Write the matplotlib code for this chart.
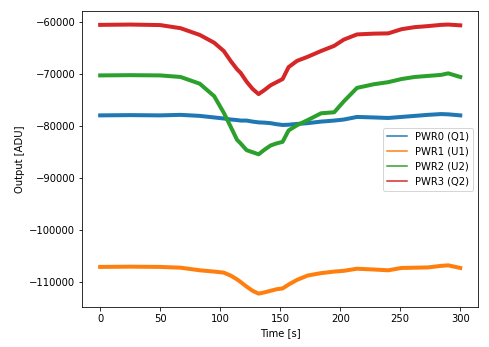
import matplotlib
matplotlib.use('Agg')
import matplotlib.pyplot as plt

# sample times [s]
time_s = [0, 25, 50, 67, 83, 95, 103, 109, 114, 117, 122, 127, 132, 137, 142, 147,
          152, 157, 164, 173, 184, 195, 203, 214, 228, 240, 251, 262, 273, 284, 290, 300]

pwr0 = [-77900, -77850, -77900, -77800, -78000, -78300, -78500, -78700, -78800, -78900,
        -78900, -79100, -79250, -79300, -79400, -79600, -79750, -79700, -79550, -79400,
        -79100, -78900, -78700, -78200, -78300, -78400, -78200, -78000, -77800, -77650,
        -77700, -77900]
pwr1 = [-107100, -107050, -107100, -107250, -107750, -108000, -108200, -108800, -109500, -110000,
        -110900, -111700, -112250, -112000, -111700, -111400, -111250, -110500, -109600, -108750,
        -108300, -108000, -107850, -107450, -107600, -107750, -107300, -107250, -107200, -106900,
        -106800, -107300]
pwr2 = [-70200, -70150, -70200, -70500, -71800, -74200, -77400, -80200, -82600, -83300,
        -84600, -85000, -85400, -84500, -83700, -83300, -83000, -80800, -79800, -78800,
        -77500, -77300, -75200, -72600, -71900, -71500, -70900, -70500, -70300, -70100,
        -69800, -70500]
pwr3 = [-60460, -60400, -60500, -61100, -62400, -63900, -65500, -67500, -69000, -69700,
        -71400, -72800, -73800, -73000, -72100, -71500, -70900, -68600, -67400, -66600,
        -65500, -64500, -63300, -62300, -62150, -62100, -61300, -60900, -60700, -60460,
        -60400, -60550]

labels = ['PWR0 (Q1)', 'PWR1 (U1)', 'PWR2 (U2)', 'PWR3 (Q2)']

fig = plt.figure(figsize=(489 / 72, 347 / 72), dpi=72)
ax = fig.add_axes([0.168, 0.115, 0.81, 0.853])

for series, lab in zip([pwr0, pwr1, pwr2, pwr3], labels):
    line, = ax.plot(time_s, series, lw=4)
    line.set_label(lab)

ax.set_xlabel('Time [s]')
ax.set_ylabel('Output [ADU]')
leg = ax.legend(loc='center right')
for h in leg.get_lines():
    h.set_linewidth(1.5)

fig.savefig('out.png', dpi=72)
